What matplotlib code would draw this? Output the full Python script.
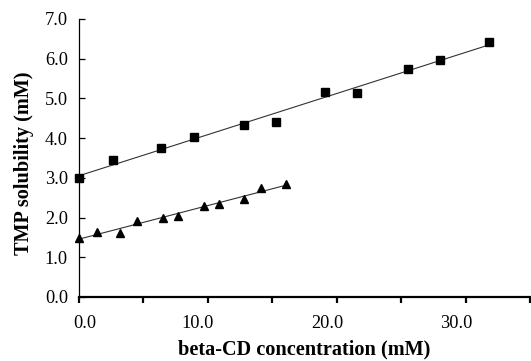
import numpy as np
import matplotlib.pyplot as plt

# beta-CD concentration (mM) and TMP solubility (mM)
sq_x = [0.0, 2.6, 6.4, 8.9, 12.8, 15.3, 19.1, 21.6, 25.5, 28.0, 31.8]
sq_y = [3.00, 3.45, 3.75, 4.04, 4.33, 4.41, 5.15, 5.13, 5.73, 5.97, 6.43]

tri_x = [0.0, 1.4, 3.2, 4.5, 6.5, 7.7, 9.7, 10.9, 12.8, 14.1, 16.1]
tri_y = [1.48, 1.63, 1.62, 1.92, 2.00, 2.05, 2.29, 2.33, 2.46, 2.75, 2.84]

x_ticks = [0, 5, 10, 15, 20, 25, 30, 35]
x_label_at = [0.47, 9.22, 19.3, 29.27]   # labels sit a bit off their ticks in the source
x_labels = ["0.0", "10.0", "20.0", "30.0"]
y_ticks = [0, 1, 2, 3, 4, 5, 6, 7]
y_labels = ["0.0", "1.0", "2.0", "3.0", "4.0", "5.0", "6.0", "7.0"]


def main():
    plt.rcParams["font.family"] = ["Liberation Serif", "DejaVu Serif"]

    fig = plt.figure(figsize=(5.31, 3.61), dpi=100)
    ax = fig.add_axes([0.1488, 0.1773, 0.8494, 0.7701])

    for xs, ys, mk, ms in [(sq_x, sq_y, "s", 5.4), (tri_x, tri_y, "^", 5.8)]:
        k, b = np.polyfit(xs, ys, 1)
        xx = np.array([0.0, max(xs)])
        ax.plot(xx, k * xx + b, color="#333333", lw=0.8, zorder=2)
        ax.plot(xs, ys, mk, color="black", ms=ms, ls="none", zorder=3,
                clip_on=False)

    ax.set_xlim(0, 35)
    ax.set_ylim(0, 7)
    ax.set_xticks(x_ticks)
    ax.set_xticklabels([])
    ax.set_xticks(x_label_at, minor=True)
    ax.set_xticklabels(x_labels, minor=True)
    ax.set_yticks(y_ticks)
    ax.set_yticklabels(y_labels)

    for side in ["top", "right"]:
        ax.spines[side].set_visible(False)
    ax.spines["left"].set_linewidth(0.9)
    ax.spines["bottom"].set_linewidth(1.6)

    ax.tick_params(axis="x", which="major", direction="out", length=4,
                   width=1.6)
    ax.tick_params(axis="x", which="minor", direction="out", length=4,
                   width=0, labelsize=13.2, pad=9)
    ax.tick_params(axis="y", direction="in", length=4.3, width=0.9,
                   labelsize=13.2, pad=8)

    ax.set_xlabel("beta-CD concentration (mM)", fontsize=14.6,
                  fontweight="bold", labelpad=5)
    ax.set_ylabel("TMP solubility (mM)", fontsize=14.6, fontweight="bold")
    ax.yaxis.set_label_coords(-0.10, 0.48)

    fig.savefig("out.png", dpi=100)


if __name__ == "__main__":
    main()
